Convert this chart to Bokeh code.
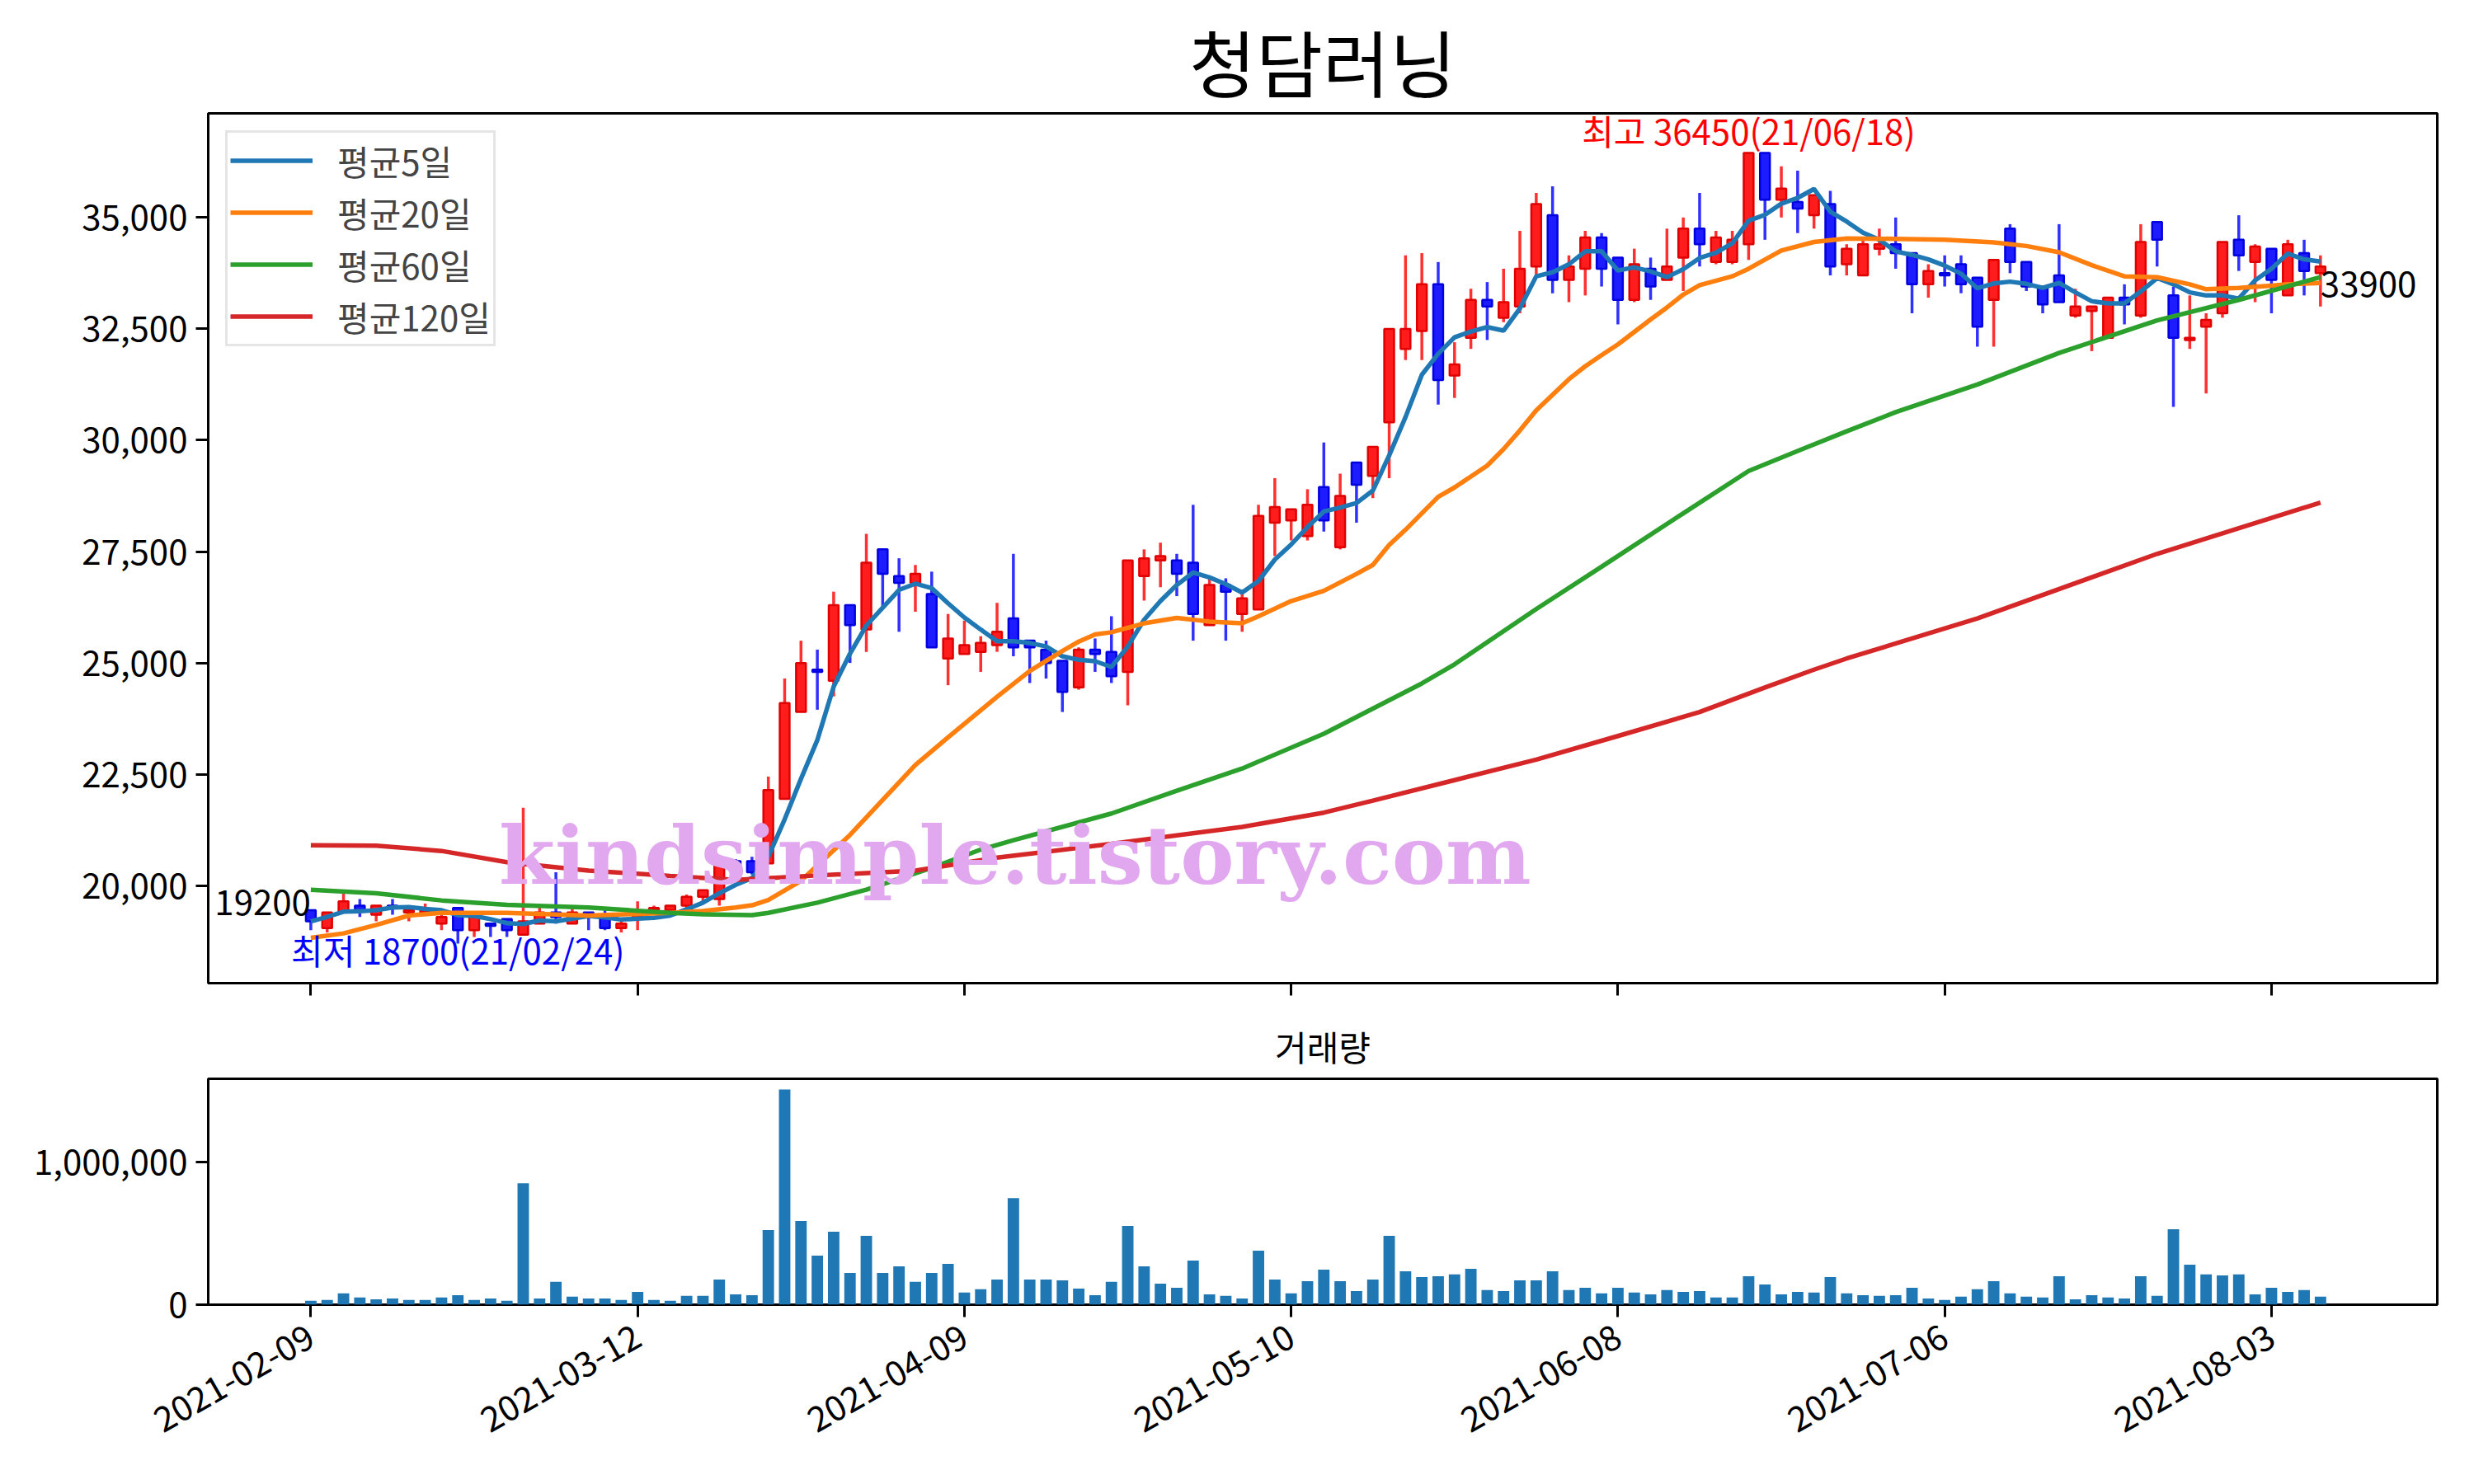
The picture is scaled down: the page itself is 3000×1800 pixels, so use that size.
import numpy as np
import pandas as pd
from bokeh.plotting import figure
from bokeh.layouts import column
from bokeh.models import (ColumnDataSource, Range1d, FixedTicker, NumeralTickFormatter,
                          Legend, LegendItem, Label)
from bokeh.embed import file_html
from bokeh.resources import INLINE

FONT = "Noto Sans CJK KR"

# ---------------- data ----------------
opens = [19450, 19050, 19400, 19550, 19350, 19550, 19400, 19400, 19150, 19500,
         19000, 19150, 19250, 18900, 19150, 19400, 19150, 19400, 19350, 19050,
         19300, 19450, 19450, 19550, 19750, 19700, 20550, 20550, 20500, 21950,
         23900, 24850, 24600, 26300, 25750, 27550, 26950, 26800, 26550, 25100,
         25200, 25250, 25400, 26000, 25500, 25300, 25050, 24450, 25300, 25250,
         24800, 26950, 27300, 27300, 27250, 25850, 26750, 26100, 26200, 28150,
         28200, 27850, 28950, 27600, 29500, 29200, 30400, 32050, 32450, 33500,
         31450, 32300, 33150, 32750, 33000, 33900, 35050, 33600, 33850, 34550,
         34100, 33150, 33850, 33600, 34100, 34750, 34000, 34000, 34400, 36450,
         35400, 35350, 35050, 35300, 33950, 33700, 34300, 34400, 34200, 33500,
         33750, 33950, 33650, 33150, 34750, 34000, 33450, 33700, 32800, 32900,
         32300, 33200, 32800, 34900, 33250, 32250, 32550, 32850, 34500, 34000,
         34300, 33250, 34200, 33750]
highs = [19450, 19400, 19900, 19700, 19550, 19700, 19550, 19600, 19400, 19500,
         19400, 19150, 19250, 21750, 19550, 20300, 19550, 19400, 19500, 19250,
         19650, 19550, 19550, 19800, 19900, 20550, 20600, 20650, 22450, 24650,
         25500, 25300, 26600, 26300, 27900, 27550, 27350, 27200, 27050, 26100,
         25950, 25600, 26350, 27450, 25500, 25500, 25050, 25350, 25550, 26050,
         27300, 27550, 27700, 27450, 28550, 26900, 26900, 26650, 28550, 29150,
         28450, 28900, 29950, 29250, 29500, 29850, 32500, 34150, 34200, 34000,
         32200, 33400, 33550, 33850, 34700, 35550, 35700, 34150, 34700, 34650,
         34100, 34300, 34100, 34750, 35000, 35550, 34700, 34700, 36450, 36450,
         36150, 36050, 35500, 35600, 34400, 34550, 34750, 35000, 34200, 33950,
         34150, 34150, 33650, 34050, 34850, 34000, 33450, 34850, 33400, 33000,
         33200, 33500, 34850, 34900, 33450, 33250, 32850, 34450, 35050, 34400,
         34300, 34500, 34500, 34150]
lows = [19000, 18950, 19400, 19300, 19200, 19350, 19200, 19350, 19000, 18700,
        18850, 18850, 18850, 18900, 19150, 19150, 19150, 19000, 19000, 18950,
        19000, 19400, 19400, 19400, 19600, 19550, 20350, 20250, 20500, 21950,
        23900, 23950, 24250, 25000, 25250, 26250, 25700, 26150, 25350, 24500,
        25200, 24800, 25250, 25150, 24550, 24650, 23900, 24400, 24800, 24550,
        24050, 26400, 26700, 26500, 25500, 25850, 25500, 25700, 26200, 27400,
        27750, 27750, 27950, 27550, 28150, 28700, 29150, 31800, 31800, 30800,
        30950, 32050, 32250, 32650, 32850, 33700, 33300, 33100, 33250, 33450,
        32600, 33100, 33150, 33600, 33350, 33900, 33950, 33950, 34050, 34500,
        35000, 34650, 34750, 33700, 33700, 33700, 34150, 33850, 32850, 33200,
        33450, 33300, 32100, 32100, 33750, 33350, 32850, 33100, 32750, 32000,
        32300, 32600, 32750, 33900, 30750, 32050, 31050, 32750, 33800, 33100,
        32850, 33250, 33250, 33000]
closes = [19200, 19400, 19650, 19450, 19550, 19500, 19450, 19450, 19300, 19000,
          19400, 19100, 19000, 19200, 19400, 19300, 19400, 19300, 19050, 19150,
          19400, 19500, 19550, 19750, 19900, 20450, 20450, 20300, 22150, 24100,
          25000, 24800, 26300, 25850, 27250, 27000, 26800, 27000, 25350, 25550,
          25400, 25450, 25700, 25350, 25350, 25000, 24350, 25300, 25200, 24700,
          27300, 27350, 27400, 27000, 26100, 26750, 26600, 26450, 28300, 28500,
          28450, 28550, 28200, 28750, 29000, 29850, 32500, 32500, 33500, 31350,
          31700, 33150, 33000, 33100, 33850, 35300, 33600, 33900, 34550, 33850,
          33150, 33950, 33450, 33900, 34750, 34400, 34550, 34500, 36450, 35400,
          35650, 35200, 35500, 33900, 34300, 34400, 34400, 34200, 33500, 33800,
          33700, 33500, 32550, 34050, 34000, 33450, 33050, 33100, 33000, 33000,
          33200, 33050, 34450, 34500, 32300, 32300, 32700, 34450, 34150, 34350,
          33600, 34400, 33800, 33900]
volumes = [27000, 33000, 79000, 50000, 38000, 44000, 33000, 33000, 50000, 67000,
           33000, 44000, 27000, 852000, 44000, 160000, 56000, 44000, 44000, 33000,
           90000, 33000, 27000, 62000, 62000, 177000, 73000, 67000, 523000, 1510000,
           587000, 344000, 512000, 223000, 483000, 223000, 269000, 160000, 223000, 287000,
           85000, 108000, 177000, 748000, 177000, 177000, 171000, 113000, 67000, 160000,
           552000, 269000, 148000, 119000, 310000, 73000, 62000, 44000, 379000, 177000,
           79000, 165000, 246000, 165000, 96000, 177000, 483000, 235000, 194000, 200000,
           212000, 252000, 102000, 96000, 171000, 171000, 235000, 102000, 119000, 79000,
           119000, 85000, 73000, 102000, 90000, 96000, 50000, 50000, 200000, 142000,
           73000, 90000, 85000, 194000, 79000, 67000, 62000, 67000, 119000, 44000,
           33000, 56000, 108000, 165000, 79000, 56000, 50000, 200000, 38000, 67000,
           50000, 44000, 200000, 62000, 529000, 281000, 212000, 206000, 212000, 73000,
           119000, 90000, 102000, 56000]

tick_pos = [0, 20, 40, 60, 80, 100, 120]
tick_labels = ["2021-02-09", "2021-03-12", "2021-04-09", "2021-05-10",
               "2021-06-08", "2021-07-06", "2021-08-03"]

# moving averages (trading-day index, value)
ma20_idx = [0, 2, 4, 6, 8, 12, 17, 22, 24, 26, 27, 28, 30, 33, 37, 39, 42, 44, 46, 47,
            48, 49, 51, 53, 55, 57, 58, 60, 62, 64, 65, 66, 67, 69, 70, 72, 73, 74, 75,
            77, 78, 79, 80, 82, 83, 84, 85, 87, 88, 90, 92, 94, 97, 100, 103, 105, 107,
            109, 111, 113, 115, 116, 118, 120, 121, 123]
ma20_val = [18830, 18930, 19120, 19330, 19390, 19390, 19330, 19390, 19430, 19510, 19560,
            19680, 20110, 21140, 22710, 23330, 24240, 24820, 25270, 25480, 25640, 25690,
            25890, 26010, 25930, 25890, 26050, 26390, 26620, 27000, 27200, 27650, 27990,
            28730, 28940, 29430, 29800, 30220, 30670, 31370, 31660, 31910, 32150, 32710,
            32980, 33270, 33480, 33680, 33850, 34260, 34450, 34530, 34520, 34500, 34440,
            34360, 34220, 33930, 33680, 33660, 33500, 33390, 33420, 33470, 33500, 33530]
ma60_idx = [0, 4, 8, 12, 17, 22, 24, 27, 28, 31, 34, 38, 41, 43, 49, 53, 57, 62, 68, 70,
            75, 79, 84, 88, 91, 94, 97, 102, 107, 113, 118, 123]
ma60_val = [19910, 19830, 19670, 19570, 19510, 19390, 19360, 19340, 19390, 19620, 19910,
            20400, 20810, 21020, 21620, 22130, 22630, 23410, 24540, 24970, 26210, 27160,
            28360, 29310, 29760, 30200, 30630, 31250, 31960, 32690, 33150, 33660]
ma120_idx = [0, 4, 8, 12, 17, 22, 26, 31, 37, 42, 49, 57, 62, 65, 70, 75, 80, 85, 89,
             92, 94, 102, 113, 123]
ma120_val = [20910, 20900, 20780, 20530, 20340, 20220, 20130, 20230, 20340, 20630, 20940,
             21320, 21640, 21910, 22370, 22830, 23360, 23900, 24450, 24850, 25100, 26000,
             27450, 28600]

# ---------------- derived ----------------
idx = np.arange(len(closes))
o = np.array(opens, float); c = np.array(closes, float)
h = np.array(highs, float); l = np.array(lows, float)
ma5 = pd.Series(closes, dtype=float).rolling(5, min_periods=1).mean().values
up = c >= o

src_up = ColumnDataSource(dict(x=idx[up], top=np.maximum(o, c)[up], bottom=np.minimum(o, c)[up],
                               hi=h[up], lo=l[up]))
src_dn = ColumnDataSource(dict(x=idx[~up], top=np.maximum(o, c)[~up], bottom=np.minimum(o, c)[~up],
                               hi=h[~up], lo=l[~up]))

XR = Range1d(-6.28, 130.15)


def style_axes(p):
    p.xgrid.grid_line_color = None
    p.ygrid.grid_line_color = None
    p.outline_line_color = "black"
    p.outline_line_width = 3
    p.outline_line_alpha = 1
    for ax in (p.xaxis, p.yaxis):
        ax.axis_line_color = None
        ax.major_tick_out = 15
        ax.major_tick_in = 0
        ax.major_tick_line_width = 3
        ax.major_tick_line_color = "black"
        ax.minor_tick_line_color = None
        ax.major_label_text_font = FONT
        ax.major_label_text_font_size = "42px"
        ax.major_label_text_color = "black"
        ax.major_label_standoff = 10
    p.background_fill_color = "white"
    p.border_fill_color = "white"


# ---------------- main price chart ----------------
p = figure(width=3000, height=1225, x_range=XR, y_range=Range1d(17812.5, 37337.5),
           output_backend="svg", toolbar_location=None,
           min_border_left=252, min_border_right=45, min_border_top=137, min_border_bottom=33)
style_axes(p)
p.title.text = "청담러닝"
p.title.text_font = FONT
p.title.text_font_size = "88px"
p.title.text_font_style = "normal"
p.title.text_color = "black"
p.title.align = "center"
p.title.standoff = 4

p.xaxis.ticker = FixedTicker(ticks=tick_pos)
p.xaxis.major_label_text_color = None
p.xaxis.major_label_text_alpha = 0
p.xaxis.major_label_text_font_size = "2px"
p.xaxis.major_label_standoff = 0
p.yaxis.ticker = FixedTicker(ticks=[20000, 22500, 25000, 27500, 30000, 32500, 35000])
p.yaxis.formatter = NumeralTickFormatter(format="0,0")

# wicks
p.segment(x0="x", y0="lo", x1="x", y1="hi", source=src_up, line_color="#ff3030", line_width=3.5)
p.segment(x0="x", y0="lo", x1="x", y1="hi", source=src_dn, line_color="#3030ff", line_width=3.5)
# bodies
p.vbar(x="x", top="top", bottom="bottom", width=0.6, source=src_up,
       fill_color="#ff1c1c", line_color="#e00000", line_width=2.5)
p.vbar(x="x", top="top", bottom="bottom", width=0.6, source=src_dn,
       fill_color="#1c1cff", line_color="#0000e0", line_width=2.5)

# moving averages
r5 = p.line(idx, ma5, line_color="#1f77b4", line_width=5.5)
r20 = p.line(ma20_idx, ma20_val, line_color="#ff7f0e", line_width=5.5)
r60 = p.line(ma60_idx, ma60_val, line_color="#2ca02c", line_width=5.5)
r120 = p.line(ma120_idx, ma120_val, line_color="#d62728", line_width=5.5)

# watermark
p.add_layout(Label(x=43.1, y=20680, text="kindsimple.tistory.com", text_font="DejaVu Serif",
                   text_font_style="bold", text_font_size="98px", text_color="#e2a8ef",
                   text_align="center", text_baseline="alphabetic"))

# annotations
i_hi = int(np.argmax(h)); i_lo = int(np.argmin(l))
p.add_layout(Label(x=i_hi, y=h[i_hi], text=f"최고 {int(h[i_hi])}(21/06/18)", text_font=FONT,
                   text_font_size="42px", text_color="red", text_align="center",
                   text_baseline="bottom", y_offset=-3))
p.add_layout(Label(x=i_lo, y=l[i_lo], text=f"최저 {int(l[i_lo])}(21/02/24)", text_font=FONT,
                   text_font_size="42px", text_color="blue", text_align="center",
                   text_baseline="top", y_offset=24))
p.add_layout(Label(x=0, y=c[0], text=f"{int(c[0])}", text_font=FONT, text_font_size="42px",
                   text_color="black", text_align="right", text_baseline="bottom", y_offset=8))
p.add_layout(Label(x=idx[-1], y=c[-1], text=f"{int(c[-1])}", text_font=FONT, text_font_size="42px",
                   text_color="black", text_align="left", text_baseline="top", y_offset=-6))

legend = Legend(items=[LegendItem(label="평균5일", renderers=[r5]),
                       LegendItem(label="평균20일", renderers=[r20]),
                       LegendItem(label="평균60일", renderers=[r60]),
                       LegendItem(label="평균120일", renderers=[r120])],
                location="top_left")
legend.label_text_font = FONT
legend.label_text_font_size = "42px"
legend.glyph_width = 100
legend.glyph_height = 45
legend.label_height = 45
legend.label_standoff = 30
legend.spacing = 2
legend.padding = 3
legend.margin = 21
legend.border_line_color = "#cccccc"
legend.border_line_width = 3
legend.background_fill_alpha = 0.8
p.add_layout(legend)

# ---------------- volume chart ----------------
p2 = figure(width=3000, height=575, x_range=XR, y_range=Range1d(0, 1585000),
            output_backend="svg", toolbar_location=None,
            min_border_left=252, min_border_right=45, min_border_top=83, min_border_bottom=218)
style_axes(p2)
p2.title.text = "거래량"
p2.title.text_font = FONT
p2.title.text_font_size = "42px"
p2.title.text_font_style = "normal"
p2.title.text_color = "black"
p2.title.align = "center"
p2.title.standoff = 20
p2.vbar(x=idx, top=volumes, width=0.7, fill_color="#1f77b4", line_color=None)
p2.xaxis.ticker = FixedTicker(ticks=tick_pos)
p2.xaxis.major_label_overrides = {t: s for t, s in zip(tick_pos, tick_labels)}
p2.xaxis.major_label_orientation = np.pi / 6
p2.xaxis.major_label_standoff = 20
p2.yaxis.ticker = FixedTicker(ticks=[0, 1000000])
p2.yaxis.formatter = NumeralTickFormatter(format="0,0")

layout = column(p, p2, spacing=0)
open("out.html", "w").write(file_html(layout, INLINE))
